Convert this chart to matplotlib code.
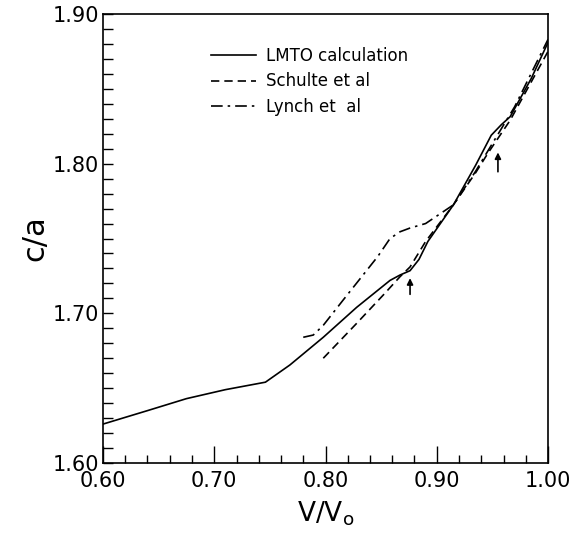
import matplotlib
matplotlib.use("Agg")
import matplotlib.pyplot as plt
from matplotlib.ticker import MultipleLocator, FixedLocator

# ---- data ----
lmto_v = [0.600, 0.640, 0.675, 0.710, 0.746, 0.768, 0.798, 0.828, 0.858, 0.867,
          0.876, 0.884, 0.892, 0.915, 0.935, 0.949, 0.958, 0.966, 0.985, 1.000]
lmto_ca = [1.626, 1.635, 1.643, 1.649, 1.654, 1.6655, 1.684, 1.704, 1.722, 1.7256,
           1.7285, 1.736, 1.748, 1.7725, 1.799, 1.819, 1.826, 1.8314, 1.857, 1.881]

schulte_v = [0.798, 0.828, 0.852, 0.867, 0.876, 0.890, 0.915, 0.935, 0.946, 0.966, 1.000]
schulte_ca = [1.670, 1.6933, 1.7123, 1.7245, 1.731, 1.748, 1.7725, 1.794, 1.807, 1.829, 1.875]

lynch_v = [0.780, 0.789, 0.798, 0.816, 0.847, 0.858, 0.867, 0.876, 0.890, 0.915,
           0.935, 0.948, 0.970, 1.000]
lynch_ca = [1.684, 1.6855, 1.692, 1.709, 1.738, 1.750, 1.7545, 1.757, 1.760, 1.7725,
            1.795, 1.811, 1.838, 1.883]

arrow_v = [0.876, 0.955]
arrow_tail = [1.7127, 1.7946]
arrow_tip = [1.7235, 1.8075]

xticks = [0.60, 0.70, 0.80, 0.90, 1.00]
xticklabels = ["0.60", "0.70", "0.80", "0.90", "1.00"]
yticks = [1.60, 1.70, 1.80, 1.90]
yticklabels = ["1.60", "1.70", "1.80", "1.90"]

labels = ["LMTO calculation", "Schulte et al", "Lynch et  al"]

# ---- figure ----
plt.rcParams['font.family'] = ['DejaVu Sans']
fig = plt.figure(figsize=(5.86, 5.39), dpi=100)
ax = fig.add_axes([103/586, 1-463/539, 445/586, 449/539])

lw = 1.2
l1, = ax.plot(lmto_v, lmto_ca, color='black', lw=lw, ls='-')
l2, = ax.plot(schulte_v, schulte_ca, color='black', lw=lw, ls=(0, (5, 3)))
l3, = ax.plot(lynch_v, lynch_ca, color='black', lw=lw, ls=(0, (7, 3, 1.5, 3)))

for v, t0, t1 in zip(arrow_v, arrow_tail, arrow_tip):
    ax.annotate("", xy=(v, t1), xytext=(v, t0),
                arrowprops=dict(arrowstyle='-|>', color='black', lw=1.2,
                                mutation_scale=9, shrinkA=0, shrinkB=0))

ax.set_xlim(0.60, 1.00)
ax.set_ylim(1.60, 1.90)

ax.xaxis.set_major_locator(FixedLocator(xticks))
ax.set_xticklabels(xticklabels)
ax.yaxis.set_major_locator(FixedLocator(yticks))
ax.set_yticklabels(yticklabels)
ax.xaxis.set_minor_locator(MultipleLocator(0.02))
ax.yaxis.set_minor_locator(MultipleLocator(0.01))

ax.tick_params(axis='both', which='both', direction='in', top=False, right=False,
               labelsize=15, width=1.0, colors='black')
ax.tick_params(axis='x', which='major', length=12, pad=6)
ax.tick_params(axis='x', which='minor', length=6)
ax.tick_params(axis='y', which='major', length=7, pad=3)
ax.tick_params(axis='y', which='minor', length=7)

for s in ax.spines.values():
    s.set_linewidth(1.2)
    s.set_color('black')

ax.set_xlabel(r"V/V$_\mathrm{o}$", fontsize=19, labelpad=6)
ax.set_ylabel("c/a", fontsize=22, labelpad=2)

leg = ax.legend([l1, l2, l3], labels, loc='upper left',
                bbox_to_anchor=((211 - 103) / 445, 1 - (47 - 14) / 449), frameon=False,
                fontsize=12, handlelength=2.7, handletextpad=0.6, labelspacing=0.45,
                borderaxespad=0, borderpad=0)

fig.savefig("out.png", dpi=100)
